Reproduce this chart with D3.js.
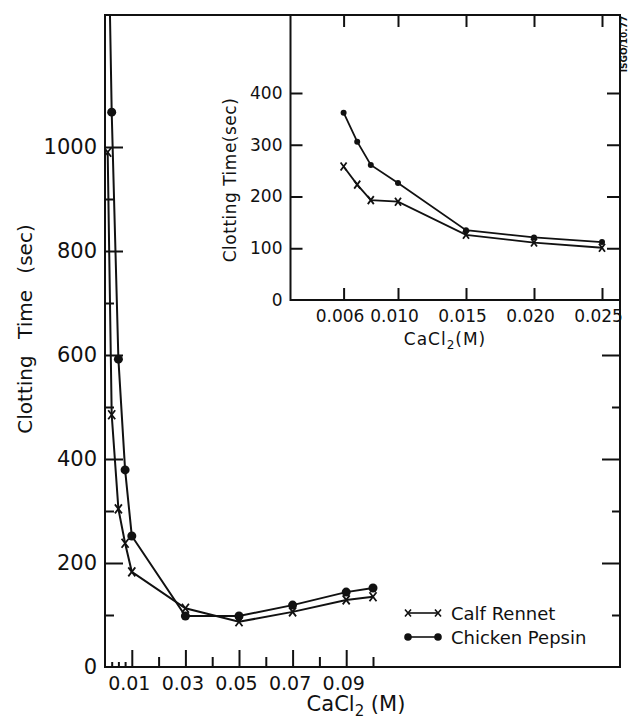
<!DOCTYPE html>
<html lang="en">
<head>
  <meta charset="UTF-8" />
  <title>Clotting Time vs CaCl2</title>
  <style>
    body {
      margin: 0;
      background: #fff;
    }
    svg text {
      font-family: "DejaVu Sans", sans-serif;
      fill: #111;
    }
    .tick line, .frame {
      stroke: #111;
      stroke-width: 2;
    }
  </style>
</head>
<body>
  <div id="chart"></div>

  <script src="https://d3js.org/d3.v7.min.js"></script>
  <script>
    // main plot data
    const mainConc = [0.001, 0.0025, 0.005, 0.0075, 0.01, 0.03, 0.05, 0.07, 0.09, 0.1];
    const mainRennet = [990, 485, 304, 238, 183, 113, 87, 106, 129, 135];
    const mainPepsin = [1500, 1067, 592, 379, 252, 98, 98, 119, 144, 152];

    // inset data
    const insetConc = [0.006, 0.007, 0.008, 0.010, 0.015, 0.020, 0.025];
    const insetRennet = [258, 223, 193, 190, 126, 111, 101];
    const insetPepsin = [362, 306, 261, 226, 135, 121, 112];

    const mainXTicks = [0.01, 0.03, 0.05, 0.07, 0.09];
    const mainXMinor = [0.02, 0.04, 0.06, 0.08, 0.1];
    const mainXSmall = [0.0025, 0.005, 0.0075];
    const mainYTicks = [0, 200, 400, 600, 800, 1000];
    const mainYMinor = [100, 300, 500, 700, 900];
    const mainRightMajor = [200, 400, 600];
    const mainRightMinor = [100, 300, 500];
    const insetXTicks = [0.006, 0.010, 0.015, 0.020, 0.025];
    const insetYTicks = [0, 100, 200, 300, 400];

    const series = ["Calf Rennet", "Chicken Pepsin"];

    const W = 629, H = 721;
    const pLeft = 105, pRight = 620, pTop = 15, pBottom = 667;
    const inLeft = 290.5, inBottom = 300;

    const svg = d3.select("#chart").append("svg")
      .attr("width", W).attr("height", H);

    const x = d3.scaleLinear().domain([0, (pRight - pLeft) / 2680]).range([pLeft, pRight]);
    const y = d3.scaleLinear().domain([0, (pBottom - pTop) / 0.52]).range([pBottom, pTop]);

    const xi = d3.scaleLinear().domain([(inLeft - 262) / 13600, (pRight - 262) / 13600]).range([inLeft, pRight]);
    const yi = d3.scaleLinear().domain([0, (inBottom - pTop) / 0.5175]).range([inBottom, pTop]);

    const noLabel = () => "";

    function ticks(g, axis) {
      g.call(axis);
      g.select(".domain").remove();
      return g;
    }

    // --- main axes ticks ---
    ticks(svg.append("g").attr("transform", `translate(${pLeft},0)`),
      d3.axisRight(y).tickValues(mainYTicks.slice(1)).tickSize(18).tickFormat(noLabel));
    ticks(svg.append("g").attr("transform", `translate(${pLeft},0)`),
      d3.axisRight(y).tickValues(mainYMinor).tickSize(9).tickFormat(noLabel));
    ticks(svg.append("g").attr("transform", `translate(${pRight},0)`),
      d3.axisLeft(y).tickValues(mainRightMajor).tickSize(18).tickFormat(noLabel));
    ticks(svg.append("g").attr("transform", `translate(${pRight},0)`),
      d3.axisLeft(y).tickValues(mainRightMinor).tickSize(8).tickFormat(noLabel));

    ticks(svg.append("g").attr("transform", `translate(0,${pBottom})`),
      d3.axisTop(x).tickValues(mainXTicks).tickSize(17).tickFormat(noLabel));
    ticks(svg.append("g").attr("transform", `translate(0,${pBottom})`),
      d3.axisTop(x).tickValues(mainXMinor).tickSize(10).tickFormat(noLabel));
    ticks(svg.append("g").attr("transform", `translate(0,${pBottom})`),
      d3.axisTop(x).tickValues(mainXSmall).tickSize(5).tickFormat(noLabel));

    // main labels
    ticks(svg.append("g").attr("transform", `translate(${pLeft},0)`),
      d3.axisLeft(y).tickValues(mainYTicks).tickSize(0).tickPadding(8).tickFormat(d3.format("d")))
      .selectAll("text").style("font-size", "21px").attr("dy", "0.32em");

    ticks(svg.append("g").attr("transform", `translate(0,${pBottom})`),
      d3.axisBottom(x).tickValues(mainXTicks).tickSize(0).tickPadding(10).tickFormat(d3.format(".2f")))
      .selectAll("text").style("font-size", "19px").attr("dx", -3);

    // --- inset ---
    svg.append("rect")
      .attr("x", inLeft).attr("y", pTop)
      .attr("width", pRight - inLeft).attr("height", inBottom - pTop)
      .attr("fill", "#fff");

    ticks(svg.append("g").attr("transform", `translate(${inLeft},0)`),
      d3.axisRight(yi).tickValues(insetYTicks.slice(1)).tickSize(12).tickFormat(noLabel));
    ticks(svg.append("g").attr("transform", `translate(${pRight},0)`),
      d3.axisLeft(yi).tickValues(insetYTicks.slice(1)).tickSize(13).tickFormat(noLabel));
    ticks(svg.append("g").attr("transform", `translate(0,${inBottom})`),
      d3.axisTop(xi).tickValues(insetXTicks).tickSize(12).tickFormat(noLabel));
    ticks(svg.append("g").attr("transform", `translate(0,${pTop})`),
      d3.axisBottom(xi).tickValues(insetXTicks).tickSize(12).tickFormat(noLabel));

    ticks(svg.append("g").attr("transform", `translate(${inLeft},0)`),
      d3.axisLeft(yi).tickValues(insetYTicks).tickSize(0).tickPadding(8).tickFormat(d3.format("d")))
      .selectAll("text").style("font-size", "17px").attr("dy", "0.32em");
    ticks(svg.append("g").attr("transform", `translate(0,${inBottom})`),
      d3.axisBottom(xi).tickValues(insetXTicks).tickSize(0).tickPadding(10).tickFormat(d3.format(".3f")))
      .selectAll("text").style("font-size", "17px").attr("dx", -4);

    // frames
    svg.append("path").attr("class", "frame").attr("fill", "none")
      .attr("d", `M${pLeft},${pTop}H${pRight}V${pBottom}H${pLeft}Z`);
    svg.append("path").attr("class", "frame").attr("fill", "none")
      .attr("d", `M${inLeft},${pTop}V${inBottom}H${pRight}`);

    // --- data ---
    svg.append("clipPath").attr("id", "clip")
      .append("rect").attr("x", pLeft).attr("y", pTop)
      .attr("width", pRight - pLeft).attr("height", pBottom - pTop);

    const xMark = (s, w, h) => `M${-w},${-h}L${w},${h}M${w},${-h}L${-w},${h}`;

    function drawSeries(xs, ys, sx, sy, kind, opt) {
      const pts = xs.map((c, i) => [sx(c), sy(ys[i])]);
      const g = svg.append("g").attr("clip-path", "url(#clip)");
      g.append("path")
        .attr("d", d3.line()(pts))
        .attr("fill", "none").attr("stroke", "#111").attr("stroke-width", opt.lw);
      const m = g.selectAll(".m").data(pts.filter(p => p[1] >= pTop)).enter();
      if (kind === "x") {
        m.append("path")
          .attr("transform", d => `translate(${d[0]},${d[1]})`)
          .attr("d", xMark(0, opt.w, opt.h))
          .attr("stroke", "#111").attr("stroke-width", 1.8).attr("fill", "none");
      } else {
        m.append("circle")
          .attr("cx", d => d[0]).attr("cy", d => d[1]).attr("r", opt.r)
          .attr("fill", "#111");
      }
    }

    drawSeries(mainConc, mainRennet, x, y, "x", {lw: 2, w: 3.5, h: 4.5});
    drawSeries(mainConc, mainPepsin, x, y, "dot", {lw: 2, r: 4.5});
    drawSeries(insetConc, insetRennet, xi, yi, "x", {lw: 1.8, w: 3, h: 4});
    drawSeries(insetConc, insetPepsin, xi, yi, "dot", {lw: 1.8, r: 3});

    // --- titles ---
    svg.append("text")
      .attr("transform", "translate(32,329) rotate(-90)")
      .attr("text-anchor", "middle")
      .style("font-size", "20px").style("word-spacing", "10px")
      .text("Clotting Time (sec)");

    const xt = svg.append("text")
      .attr("x", 356).attr("y", 711).attr("text-anchor", "middle")
      .style("font-size", "21px");
    xt.append("tspan").text("CaCl");
    xt.append("tspan").attr("dy", 5).style("font-size", "15px").text("2");
    xt.append("tspan").attr("dy", -5).text(" (M)");

    svg.append("text")
      .attr("transform", "translate(236,180) rotate(-90)")
      .attr("text-anchor", "middle")
      .style("font-size", "17px").style("letter-spacing", "0.5px")
      .text("Clotting Time(sec)");

    const it = svg.append("text")
      .attr("x", 445).attr("y", 345).attr("text-anchor", "middle")
      .style("font-size", "17px").style("letter-spacing", "1px");
    it.append("tspan").text("CaCl");
    it.append("tspan").attr("dy", 4).style("font-size", "12px").text("2");
    it.append("tspan").attr("dy", -4).text("(M)");

    svg.append("text")
      .attr("transform", "translate(624,44) rotate(-90)")
      .attr("text-anchor", "middle").attr("dy", "0.35em")
      .style("font-size", "9px").style("font-weight", "bold")
      .text("ISGO/10.77");

    // --- legend ---
    const leg = svg.append("g");
    series.forEach((name, i) => {
      const ly = 613 + i * 24;
      leg.append("line")
        .attr("x1", 408).attr("x2", 438).attr("y1", ly).attr("y2", ly)
        .attr("stroke", "#111").attr("stroke-width", 1.6);
      [408, 438].forEach(lx => {
        if (i === 0) {
          leg.append("path").attr("transform", `translate(${lx},${ly})`)
            .attr("d", xMark(0, 3, 3.5)).attr("stroke", "#111")
            .attr("stroke-width", 1.6).attr("fill", "none");
        } else {
          leg.append("circle").attr("cx", lx).attr("cy", ly).attr("r", 3.8).attr("fill", "#111");
        }
      });
      leg.append("text").attr("x", 451).attr("y", ly + 7)
        .style("font-size", "18px").text(name);
    });
  </script>
</body>
</html>
